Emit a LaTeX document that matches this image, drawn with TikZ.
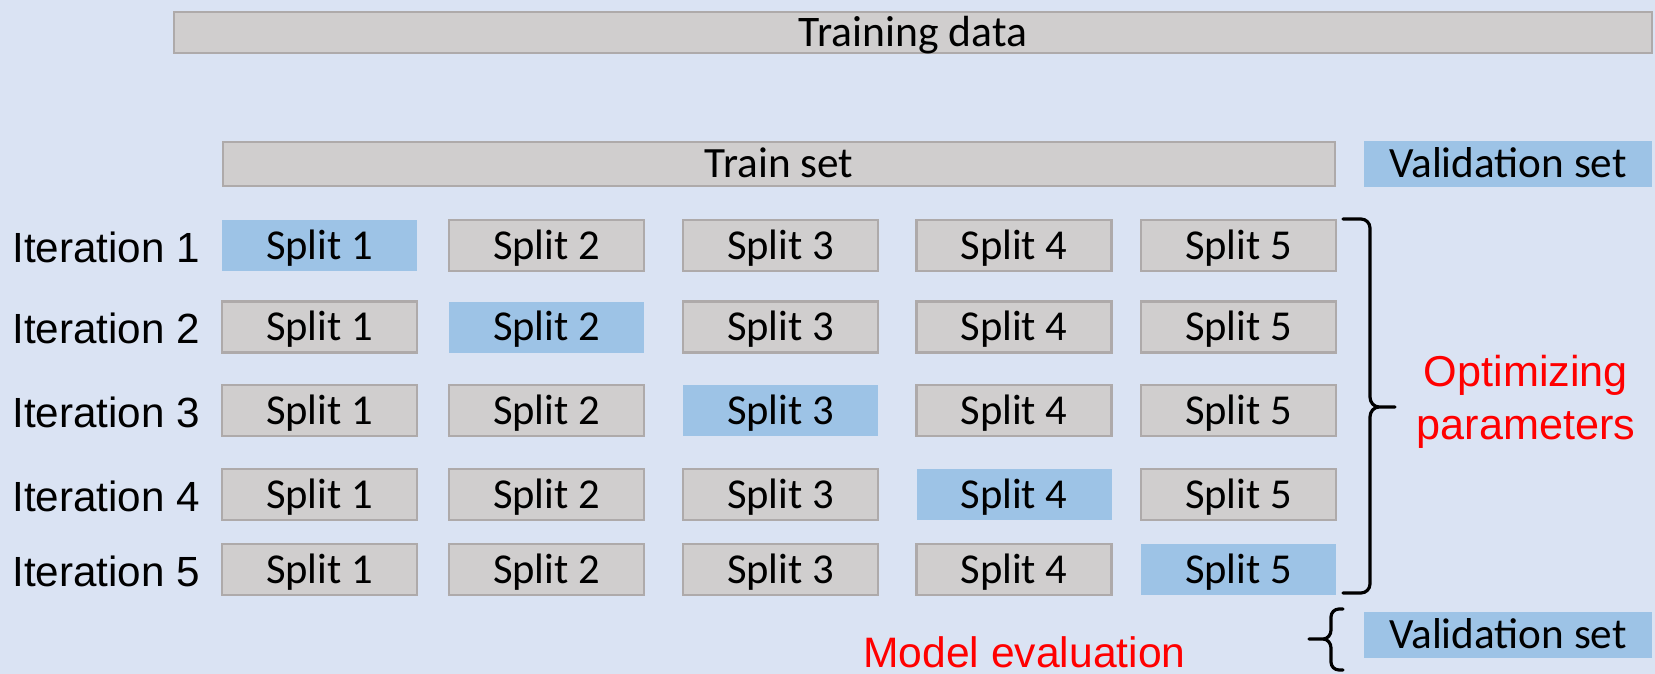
\documentclass[tikz,border=0pt]{standalone}
\usepackage{fontspec}
\setmainfont{Carlito}
\newfontfamily\labelfont{Liberation Sans}
\definecolor{bgblue}{HTML}{DAE3F3}
\definecolor{boxgray}{HTML}{D0CECE}
\definecolor{edgegray}{HTML}{AEAAAA}
\definecolor{holdout}{HTML}{9DC3E6}
\definecolor{notered}{HTML}{FF0000}
\begin{document}
\begin{tikzpicture}[x=0.5pt,y=-0.5pt,
  box/.style={rectangle, inner sep=0pt, text height=13.7pt, text depth=0pt,
    font=\fontsize{21.3}{25}\selectfont},
  graybox/.style={box, fill=boxgray, draw=edgegray, line width=1.25pt},
  bluebox/.style={box, fill=holdout},
  split/.style={minimum width=97.5pt, minimum height=25.5pt},
  itlabel/.style={anchor=base west, inner sep=0pt,
    font=\labelfont\fontsize{21.1}{25}\selectfont},
  note/.style={text=notered, inner sep=0pt,
    font=\labelfont\fontsize{21.3}{26.5}\selectfont},
  brace/.style={draw=black, line width=1.6pt, line cap=round, line join=round}]

% canvas
\useasboundingbox (0,0) rectangle (1655,674);
\fill[bgblue] (0,0) rectangle (1655,674);

% whole data set and its first split
\node[graybox, minimum width=739pt, minimum height=20.5pt, font=\fontsize{21.8}{25}\selectfont] (all) at (913,32.5) {Training data};
\node[graybox, minimum width=556pt, minimum height=22pt, font=\fontsize{21.6}{25}\selectfont] (train) at (779,164) {Train set};
\node[bluebox, minimum width=144pt, minimum height=23pt, font=\fontsize{21.6}{25}\selectfont] (valtop) at (1508,164) {Validation set};

% five folds, the held-out split shaded blue
\foreach \r/\y in {1/245.5,2/327,3/410.5,4/494.5,5/569.5} {
  \node[itlabel] (it\r) at (12,\y+16.5) {Iteration \r};
  \foreach \c/\x in {1/319.5,2/546.5,3/780.5,4/1014,5/1238.5} {
    \ifnum\r=\c
      \tikzset{cellstyle/.style=bluebox}
    \else
      \tikzset{cellstyle/.style=graybox}
    \fi
    \node[cellstyle, split] (s\r\c) at (\x,\y) {Split \c};
  }
}

% brace over all iterations
\draw[brace] (1343,219) -- (1361,219) to[out=0,in=90] (1370,228) -- (1370,397)
  to[out=-90,in=180] (1379,407) -- (1395,407) -- (1379,407)
  to[out=180,in=90] (1370,417) -- (1370,584) to[out=-90,in=0] (1361,593) -- (1343,593);
\node[note, align=center, font=\labelfont\fontsize{21.6}{26.5}\selectfont] (opt) at (1526,402) {Optimizing\\parameters};

% final evaluation on the validation set
\node[bluebox, minimum width=144pt, minimum height=23pt, font=\fontsize{21.6}{25}\selectfont] (valbot) at (1508,635) {Validation set};
\draw[brace] (1343,609) -- (1339,609) to[out=180,in=90] (1331,617) -- (1331,630)
  to[out=-90,in=0] (1323,639) -- (1309,639) -- (1323,639)
  to[out=0,in=90] (1331,648) -- (1331,662) to[out=-90,in=180] (1339,670) -- (1343,670);
\node[note, anchor=base west] (evalnote) at (863,667) {Model evaluation};
\end{tikzpicture}
\end{document}
